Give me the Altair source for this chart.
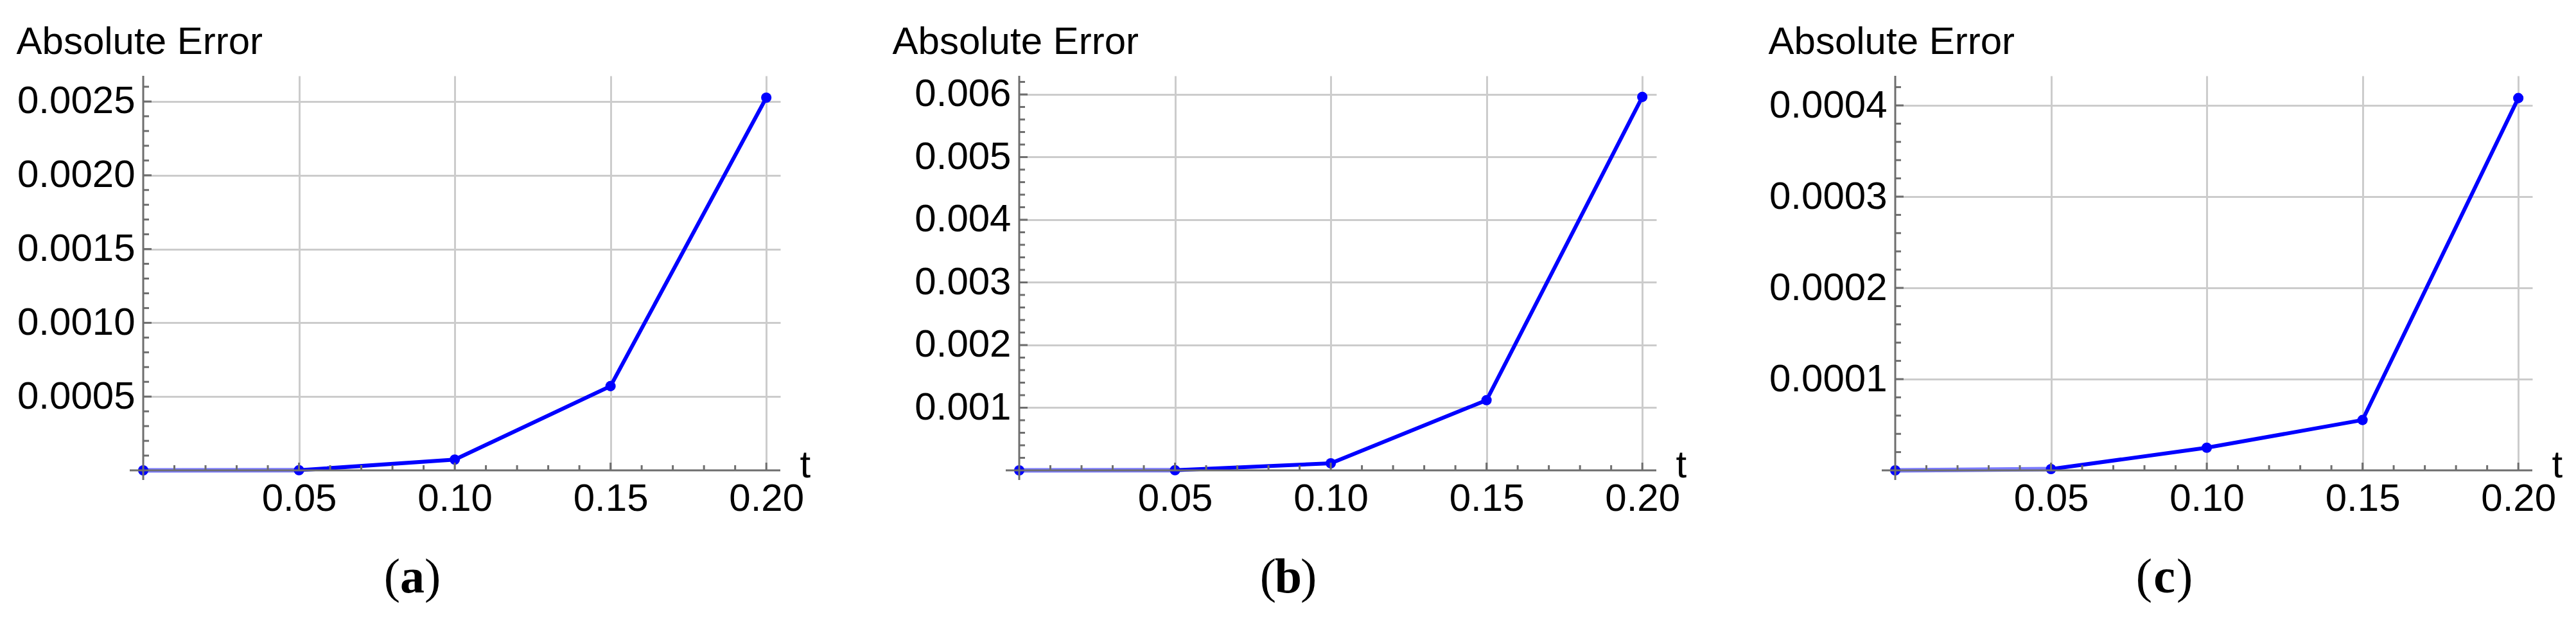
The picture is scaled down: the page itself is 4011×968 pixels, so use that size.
import altair as alt
import pandas as pd

# ---------------- data ----------------
t_values = [0.0, 0.05, 0.10, 0.15, 0.20]
err_a = [0.0, 0.000001, 0.000073, 0.000571, 0.002526]
err_b = [0.0, 0.000002, 0.000113, 0.00112, 0.00596]
err_c = [0.0, 0.0000014, 0.0000248, 0.0000552, 0.000408]

x_major = [0.05, 0.10, 0.15, 0.20]
x_minor = [0.01, 0.02, 0.03, 0.04, 0.06, 0.07, 0.08, 0.09,
           0.11, 0.12, 0.13, 0.14, 0.16, 0.17, 0.18, 0.19]

y_major_a = [0.0005, 0.0010, 0.0015, 0.0020, 0.0025]
y_minor_a = [0.0001, 0.0002, 0.0003, 0.0004, 0.0006, 0.0007, 0.0008, 0.0009,
             0.0011, 0.0012, 0.0013, 0.0014, 0.0016, 0.0017, 0.0018, 0.0019,
             0.0021, 0.0022, 0.0023, 0.0024, 0.0026]
y_major_b = [0.001, 0.002, 0.003, 0.004, 0.005, 0.006]
y_minor_b = [0.0002, 0.0004, 0.0006, 0.0008, 0.0012, 0.0014, 0.0016, 0.0018,
             0.0022, 0.0024, 0.0026, 0.0028, 0.0032, 0.0034, 0.0036, 0.0038,
             0.0042, 0.0044, 0.0046, 0.0048, 0.0052, 0.0054, 0.0056, 0.0058,
             0.0062]
y_major_c = [0.0001, 0.0002, 0.0003, 0.0004]
y_minor_c = [0.00002, 0.00004, 0.00006, 0.00008, 0.00012, 0.00014, 0.00016,
             0.00018, 0.00022, 0.00024, 0.00026, 0.00028, 0.00032, 0.00034,
             0.00036, 0.00038, 0.00042]

y_max_a = 0.002674
y_max_b = 0.006297
y_max_c = 0.0004324
x_max = 0.2045

panel_letters = ["a", "b", "c"]

# ---------------- style ----------------
W, H = 992, 614
BLUE = "#0000ff"
LIGHT_BLUE = "#7b7bff"
AXIS = "#6e6e6e"
GRID = "#cccccc"
SANS = "Liberation Sans"
SERIF = "Liberation Serif"
FS = 60


def panel(err, ymax, y_major, y_minor, yfmt, letter):
    df = pd.DataFrame({"t": t_values, "err": err})
    xs = alt.Scale(domain=[0, x_max], nice=False, zero=False)
    ys = alt.Scale(domain=[0, ymax], nice=False, zero=False)

    x_axis = alt.Axis(values=x_major, format=".2f", grid=True, gridColor=GRID,
                      gridWidth=3, ticks=False, domain=False,
                      labelFont=SANS, labelFontSize=FS, labelColor="black",
                      labelPadding=15, labelFlush=False, labelOverlap=False,
                      labelLimit=0,
                      title="t", titleFont=SANS, titleFontSize=FS,
                      titleFontWeight="normal", titleColor="black",
                      titleAngle=0, titleAlign="left", titleBaseline="alphabetic",
                      titleX=1022, titleY=10, titleLimit=0)
    y_axis = alt.Axis(values=y_major, format=yfmt, grid=True, gridColor=GRID,
                      gridWidth=3, ticks=False, domain=False,
                      labelFont=SANS, labelFontSize=FS, labelColor="black",
                      labelPadding=13, labelFlush=False, labelOverlap=False,
                      labelLimit=0,
                      title="Absolute Error", titleFont=SANS, titleFontSize=FS,
                      titleFontWeight="normal", titleColor="black",
                      titleAngle=0, titleAlign="left", titleBaseline="alphabetic",
                      titleX=-198, titleY=-35, titleLimit=0)

    base = alt.Chart(df)
    line_light = base.transform_filter(alt.datum.t <= 0.051).mark_line(
        color=LIGHT_BLUE, strokeWidth=7).encode(
        x=alt.X("t:Q", scale=xs, axis=x_axis),
        y=alt.Y("err:Q", scale=ys, axis=y_axis))
    line_main = base.transform_filter(alt.datum.t >= 0.049).mark_line(
        color=BLUE, strokeWidth=6).encode(
        x=alt.X("t:Q", scale=xs), y=alt.Y("err:Q", scale=ys))
    pts = base.mark_circle(color=BLUE, size=260, opacity=1).encode(
        x=alt.X("t:Q", scale=xs), y=alt.Y("err:Q", scale=ys))

    xt_major = alt.Chart(pd.DataFrame({"t": x_major})).mark_rule(
        color=AXIS, strokeWidth=3).encode(
        x=alt.X("t:Q", scale=xs), y=alt.value(H), y2=alt.value(H - 12))
    xt_minor = alt.Chart(pd.DataFrame({"t": x_minor})).mark_rule(
        color=AXIS, strokeWidth=3).encode(
        x=alt.X("t:Q", scale=xs), y=alt.value(H), y2=alt.value(H - 8))
    yt_major = alt.Chart(pd.DataFrame({"err": y_major})).mark_rule(
        color=AXIS, strokeWidth=3).encode(
        y=alt.Y("err:Q", scale=ys), x=alt.value(0), x2=alt.value(13))
    yt_minor = alt.Chart(pd.DataFrame({"err": y_minor})).mark_rule(
        color=AXIS, strokeWidth=3).encode(
        y=alt.Y("err:Q", scale=ys), x=alt.value(0), x2=alt.value(9))

    one = pd.DataFrame({"k": [0]})
    x_line = alt.Chart(one).mark_rule(color=AXIS, strokeWidth=3).encode(
        x=alt.value(-21), x2=alt.value(W), y=alt.value(H))
    y_line = alt.Chart(one).mark_rule(color=AXIS, strokeWidth=3).encode(
        x=alt.value(0), y=alt.value(0), y2=alt.value(H + 15))

    lab = pd.DataFrame({"letter": [letter]})
    lp = alt.Chart(lab).mark_text(font=SERIF, fontSize=76, align="right",
                                  baseline="alphabetic", color="black").encode(
        x=alt.value(400), y=alt.value(804), text=alt.value("("))
    lm = alt.Chart(lab).mark_text(font=SERIF, fontSize=76, fontWeight="bold",
                                  align="center", baseline="alphabetic",
                                  color="black").encode(
        x=alt.value(419), y=alt.value(804), text=alt.Text("letter:N"))
    lr = alt.Chart(lab).mark_text(font=SERIF, fontSize=76, align="left",
                                  baseline="alphabetic", color="black").encode(
        x=alt.value(438), y=alt.value(804), text=alt.value(")"))

    return alt.layer(line_light, line_main, pts, xt_major, xt_minor,
                     yt_major, yt_minor, x_line, y_line, lp, lm, lr
                     ).properties(width=W, height=H)


pa = panel(err_a, y_max_a, y_major_a, y_minor_a, ".4f", panel_letters[0])
pb = panel(err_b, y_max_b, y_major_b, y_minor_b, ".3f", panel_letters[1])
pc = panel(err_c, y_max_c, y_major_c, y_minor_c, ".4f", panel_letters[2])

chart = alt.hconcat(pa, pb, pc, spacing=372, bounds="flush").properties(
    padding={"left": 17, "top": 27, "right": 5, "bottom": 5},
    background="white",
).configure_view(stroke=None)

chart.save("out.html", embed_options={"renderer": "svg", "actions": False})
